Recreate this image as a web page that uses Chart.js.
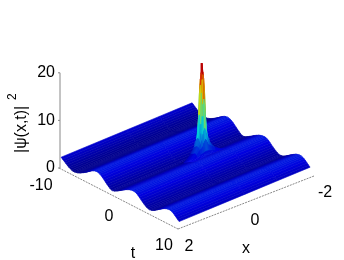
<!DOCTYPE html>
<html>
<head>
<meta charset="utf-8">
<style>
  html, body { margin: 0; padding: 0; background: #fff; }
  canvas { display: block; filter: blur(0.35px); }
</style>
<script src="https://cdn.jsdelivr.net/npm/chart.js@4/dist/chart.umd.min.js"></script>
</head>
<body>
<canvas id="surface" width="344" height="260"></canvas>
<script>
// |psi(x,t)|^2 surface, values

const zTicks = [0, 10, 20];
const tTicks = [-10, 0, 10];
const xTicks = [2, 0, -2];

// background ridges: same height along x, one value per t
const ridgeX = [2, 0, -1, -2];
const ridgeT = [
  -10, -9.75, -9.5, -9.25, -9, -8.75, -8.5, -8.25, -8, -7.75, -7.5, -7.25, -7, -6.75, -6.5, -6.25,
  -6, -5.75, -5.5, -5.25, -5, -4.75, -4.5, -4.25, -4, -3.75, -3.5, -3.25, -3, -2.75, -2.5, -2.25,
  -2, -1.75, -1.5, -1.25, -1, -0.75, -0.5, -0.25, 0, 0.25, 0.5, 0.75, 1, 1.25, 1.5, 1.75,
  2, 2.25, 2.5, 2.75, 3, 3.25, 3.5, 3.75, 4, 4.25, 4.5, 4.75, 5, 5.25, 5.5, 5.75,
  6, 6.25, 6.5, 6.75, 7, 7.25, 7.5, 7.75, 8, 8.25, 8.5, 8.75, 9, 9.25, 9.5, 9.75, 10
];
const ridgeZ = [
  2.35, 2.1, 1.85, 1.6, 1.35, 1.13, 0.95, 0.81, 0.72, 0.72, 0.78, 0.87, 1.0, 1.16, 1.35, 1.54,
  1.75, 1.97, 2.2, 2.46, 2.7, 2.92, 3.08, 3.2, 3.25, 3.22, 3.1, 2.9, 2.65, 2.36, 2.05, 1.74,
  1.45, 1.19, 1.02, 1.0, 1.1, 1.26, 1.45, 1.65, 1.85, 2.07, 2.3, 2.5, 2.7, 2.87, 3.02, 3.13,
  3.2, 3.24, 3.2, 3.07, 2.85, 2.56, 2.25, 1.96, 1.7, 1.45, 1.25, 1.12, 1.08, 1.14, 1.25, 1.43,
  1.65, 1.87, 2.1, 2.33, 2.55, 2.76, 2.95, 3.1, 3.2, 3.26, 3.25, 3.14, 2.95, 2.69, 2.4, 2.12, 1.85
];

// fine sheet around the peak, its edges sit on the ridges
const peakX = [0, -0.22, -0.32, -0.37, -0.415, -0.45, -0.475, -0.5, -0.525, -0.55, -0.585, -0.63, -0.68, -0.78, -1];
const peakT = [-1, -0.75, -0.6, -0.45, -0.3, -0.15, 0, 0.15, 0.3, 0.45, 0.6, 0.75, 1];
const peakZ = [
  [1.1, 1.1, 1.1, 1.1, 1.1, 1.1, 1.1, 1.1, 1.1, 1.1, 1.1, 1.1, 1.1, 1.1, 1.1],
  [1.26, 1.56, 1.86, 1.96, 2.0, 2.06, 2.1, 2.16, 2.1, 2.06, 2.0, 1.96, 1.86, 1.56, 1.26],
  [1.37, 2.17, 2.97, 3.27, 3.57, 4.17, 4.57, 4.87, 4.57, 4.17, 3.57, 3.27, 2.97, 2.17, 1.37],
  [1.49, 2.69, 3.69, 4.29, 4.99, 6.19, 6.89, 7.29, 6.89, 6.19, 4.99, 4.29, 3.69, 2.69, 1.49],
  [1.61, 2.91, 4.01, 5.01, 6.61, 10.11, 12.61, 13.61, 12.61, 10.11, 6.61, 5.01, 4.01, 2.91, 1.61],
  [1.73, 3.03, 4.23, 5.73, 8.73, 15.23, 17.93, 18.93, 17.93, 15.23, 8.73, 5.73, 4.23, 3.03, 1.73],
  [1.85, 3.15, 4.45, 6.05, 10.85, 17.05, 19.55, 21.5, 19.55, 17.05, 10.85, 6.05, 4.45, 3.15, 1.85],
  [1.98, 3.28, 4.48, 5.98, 8.98, 15.48, 18.18, 19.18, 18.18, 15.48, 8.98, 5.98, 4.48, 3.28, 1.98],
  [2.12, 3.42, 4.52, 5.52, 7.12, 10.62, 13.12, 14.12, 13.12, 10.62, 7.12, 5.52, 4.52, 3.42, 2.12],
  [2.26, 3.46, 4.46, 5.06, 5.76, 6.96, 7.66, 8.06, 7.66, 6.96, 5.76, 5.06, 4.46, 3.46, 2.26],
  [2.38, 3.18, 3.98, 4.28, 4.58, 5.18, 5.58, 5.88, 5.58, 5.18, 4.58, 4.28, 3.98, 3.18, 2.38],
  [2.5, 2.8, 3.1, 3.25, 3.3, 3.4, 3.45, 3.5, 3.45, 3.4, 3.3, 3.25, 3.1, 2.8, 2.5],
  [2.7, 2.7, 2.7, 2.7, 2.7, 2.7, 2.7, 2.7, 2.7, 2.7, 2.7, 2.7, 2.7, 2.7, 2.7]
];

const colorMax = 21.5;

// view of the surface: centre of the base plane + one step along t, x and z
function project(t, x, z) {
  return {
    x: 185.6 + 5.9 * t - 32.75 * x,
    y: 172.2 + 3.1 * t + 13.6 * x - 4.76 * z
  };
}

// the drawn box is a bit larger than the surface
function projectBox(t, x, z) {
  return {
    x: 186.5 + 5.95 * t - 34 * x,
    y: 172 + 3.05 * t + 13.25 * x - 4.76 * z
  };
}

function jet(v) {
  const c = Math.min(1, Math.max(0, v));
  const part = d => Math.min(1, Math.max(0, 1.5 - Math.abs(4 * c - d)));
  return [part(3), part(2), part(1)];
}

function quadColor(z, dzdt, dzdx) {
  const p = dzdt * 0.71, q = dzdx * 0.13;
  const len = Math.sqrt(p * p + q * q + 1);
  const dot = Math.max(0, (-p * 0.45 - q * 0.35 + 0.82) / len);
  const lit = Math.min(0.88, 0.45 + 0.6 * dot);
  // steep faces of the peak keep the plain colormap colour
  const steep = Math.min(1, (Math.abs(p) + Math.abs(q)) / 5);
  const shade = lit * (1 - steep) + 0.85 * steep;
  const rgb = jet(z / colorMax).map(v => Math.round(v * shade * 255));
  return `rgb(${rgb[0]},${rgb[1]},${rgb[2]})`;
}

function sheetQuads(ts, xs, zs, skip) {
  const quads = [];
  for (let i = 0; i < ts.length - 1; i++) {
    for (let j = 0; j < xs.length - 1; j++) {
      const tm = (ts[i] + ts[i + 1]) / 2, xm = (xs[j] + xs[j + 1]) / 2;
      if (skip && skip(tm, xm)) continue;
      const a = zs[i][j], b = zs[i][j + 1], c = zs[i + 1][j + 1], d = zs[i + 1][j];
      // slope over the neighbouring rows too, keeps the shading from banding
      const lo = Math.max(0, i - 1), hi = Math.min(ts.length - 1, i + 2);
      const dzdt = (zs[hi][j] + zs[hi][j + 1] - zs[lo][j] - zs[lo][j + 1]) / 2 / (ts[hi] - ts[lo]);
      const color = quadColor((a + b + c + d) / 4, dzdt,
        (b + c - a - d) / 2 / (xs[j + 1] - xs[j]));
      quads.push({
        key: 3.1 * tm + 13.6 * xm,
        dataset: {
          data: [
            project(ts[i], xs[j], a), project(ts[i], xs[j + 1], b),
            project(ts[i + 1], xs[j + 1], c), project(ts[i + 1], xs[j], d),
            project(ts[i], xs[j], a)
          ],
          showLine: true, fill: 'shape', tension: 0, pointRadius: 0,
          backgroundColor: color, borderColor: color, borderWidth: 0.6
        }
      });
    }
  }
  return quads;
}

const ridgeRows = ridgeZ.map(z => ridgeX.map(() => z));
const underPeak = (t, x) => t > -1 && t < 1 && x < 0 && x > -1;
const quads = sheetQuads(ridgeT, ridgeX, ridgeRows, underPeak).concat(sheetQuads(peakT, peakX, peakZ));
// chart.js paints the last dataset first, so nearest quad goes first
quads.sort((m, n) => n.key - m.key);

function axisLine(points, dash) {
  return {
    data: points, showLine: true, fill: false, tension: 0, pointRadius: 0,
    borderColor: '#888', borderWidth: 1, borderDash: dash
  };
}

const boxLines = [
  axisLine([projectBox(-10, 2, 0), projectBox(10, 2, 0)], [2, 1]),
  axisLine([projectBox(10, 2, 0), projectBox(10, -2, 0)], [2, 1])
];
const zAxisFoot = projectBox(-10, 2, 0), zAxisTop = projectBox(-10, 2, 20);
boxLines.push(axisLine([{ x: zAxisFoot.x + 1, y: zAxisFoot.y }, { x: zAxisTop.x + 1, y: zAxisTop.y }], []));
zTicks.forEach(z => {
  const p = projectBox(-10, 2, z);
  boxLines.push(axisLine([{ x: p.x + 1, y: p.y }, { x: p.x - 1, y: p.y }], []));
});

const axisText = {
  id: 'axisText',
  afterDraw(chart) {
    const { ctx, scales } = chart;
    const px = p => [scales.x.getPixelForValue(p.x), scales.y.getPixelForValue(p.y)];
    ctx.save();
    ctx.fillStyle = '#000';
    ctx.font = '16px "Liberation Sans"';
    ctx.textBaseline = 'middle';
    ctx.textAlign = 'right';
    zTicks.forEach(z => {
      const [a, b] = px(projectBox(-10, 2, z));
      ctx.fillText(String(z), a - 4, b);
    });
    ctx.textAlign = 'center';
    tTicks.forEach((t, i) => {
      const [a, b] = px(projectBox(t, 2, 0));
      ctx.fillText(String(t), a + [-18, -9.5, -14][i], b + [18, 18, 17][i]);
    });
    xTicks.forEach((x, i) => {
      const [a, b] = px(projectBox(10, x, 0));
      ctx.fillText(String(x), a + [11, 9, 11][i], b + [18, 18, 17][i]);
    });
    ctx.fillText('t', 133, 254);
    ctx.fillText('x', 246, 249);
    ctx.translate(22, 153);
    ctx.rotate(-Math.PI / 2);
    ctx.textAlign = 'left';
    ctx.fillText('|ψ(x,t)|', 0, 0);
    ctx.font = '12px "Liberation Sans"';
    ctx.fillText('2', 53, -9);
    ctx.restore();
  }
};

new Chart(document.getElementById('surface'), {
  type: 'scatter',
  data: { datasets: quads.map(q => q.dataset).concat(boxLines) },
  plugins: [axisText],
  options: {
    responsive: false,
    animation: false,
    events: [],
    layout: { padding: 0 },
    scales: {
      x: { type: 'linear', min: 0, max: 344, display: false },
      y: { type: 'linear', min: 0, max: 260, reverse: true, display: false }
    },
    plugins: { legend: { display: false }, tooltip: { enabled: false } }
  }
});
</script>
</body>
</html>
